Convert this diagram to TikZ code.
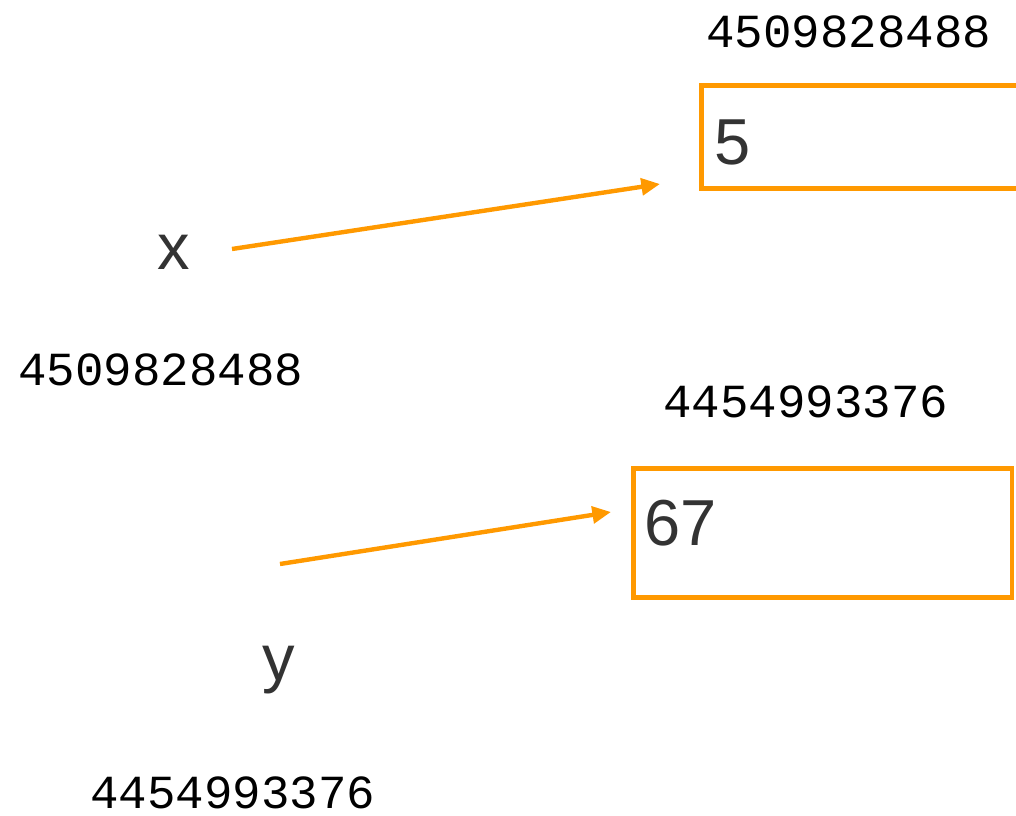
\documentclass[tikz,border=0pt]{standalone}
\usepackage{fontspec}
\setmainfont{Liberation Sans}
\newfontfamily\addrfont{Liberation Mono}
\usetikzlibrary{arrows.meta}
\definecolor{orng}{RGB}{255,153,0}
\definecolor{txt}{RGB}{51,51,51}
\tikzset{
  cell/.style={draw=orng, line width=3.6pt, anchor=north west, inner sep=0pt, outer sep=0pt, rectangle},
  val/.style={anchor=base west, inner sep=0pt, text=txt, font=\fontsize{48.75pt}{50pt}\selectfont},
  varlabel/.style={anchor=base west, inner sep=0pt, text=txt, font=\fontsize{48.75pt}{50pt}\selectfont},
  addr/.style={anchor=base west, inner sep=0pt, text=black, font=\addrfont\fontsize{35.6pt}{36pt}\selectfont},
  ref/.style={draw=orng, line width=3.3pt, -{Triangle[length=14pt,width=12.5pt]}},
}
\begin{document}
\begin{tikzpicture}[x=0.75pt,y=-0.75pt]
\useasboundingbox (0,0) rectangle (1016,816);
\clip (0,0) rectangle (1016,816);
% boxes
\node[cell, minimum width=262.5pt, minimum height=77.1pt] (box1) at (701.5,85.5) {};
\node[cell, minimum width=284pt, minimum height=96.9pt] (box2) at (633.3,468.3) {};
% values
\node[val] (v1) at (714,165) {5};
\node[val] (v2) at (644,545) {67};
% names
\node[varlabel] (nx) at (157,270) {x};
\node[varlabel] (ny) at (262,680) {y};
% addresses
\node[addr] (a1) at (706,48) {4509828488};
\node[addr] (a2) at (18,385) {4509828488};
\node[addr] (a3) at (663,417) {4454993376};
\node[addr] (a4) at (90,808) {4454993376};
% arrows
\coordinate (s1) at (232,249);
\coordinate (e1) at (660,184);
\coordinate (s2) at (280,564);
\coordinate (e2) at (611,512);
\draw[ref] (s1) -- (e1);
\draw[ref] (s2) -- (e2);
\end{tikzpicture}
\end{document}
